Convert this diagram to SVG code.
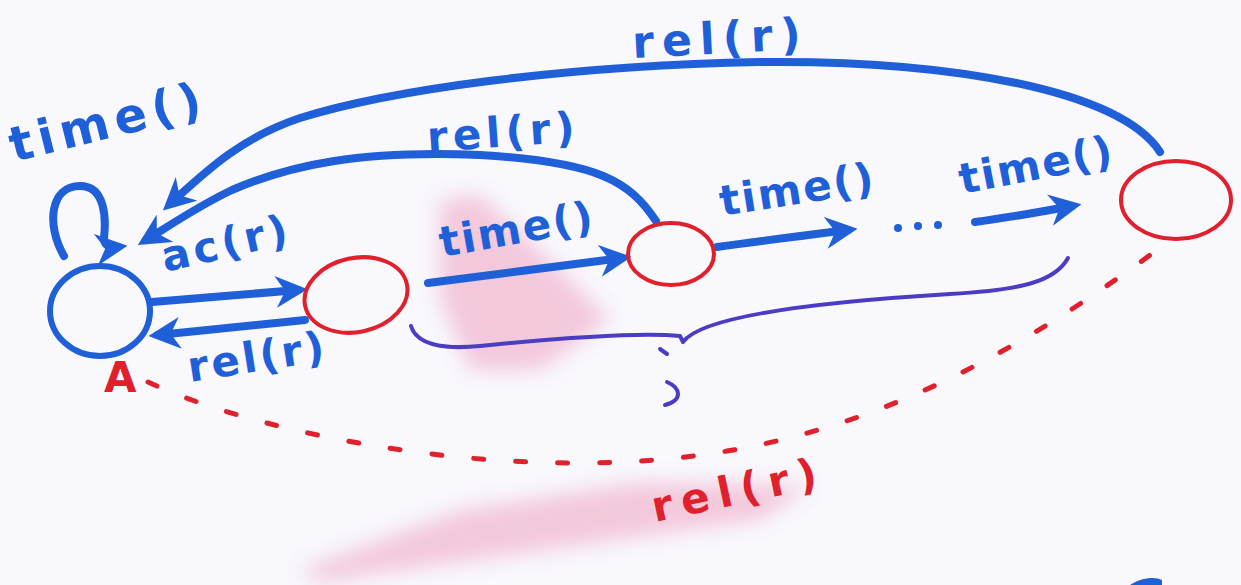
<svg xmlns="http://www.w3.org/2000/svg" width="1241" height="585" viewBox="0 0 1241 585">
  <style>
    .blue { fill: none; stroke: #1f5fd8; stroke-width: 8; stroke-linecap: round; stroke-linejoin: round; }
    .node-blue { fill: none; stroke: #1f5fd8; stroke-width: 6; }
    .node-red { fill: none; stroke: #e0202c; stroke-width: 4; }
    .purple { fill: none; stroke: #4b3cc4; stroke-width: 4; stroke-linecap: round; stroke-linejoin: round; }
    .dash { fill: none; stroke: #e0202c; stroke-width: 5; stroke-linecap: round; stroke-dasharray: 10 32; }
    .lbl { font-family: "DejaVu Sans", sans-serif; font-weight: bold; font-size: 42px; fill: #1f5fd8; letter-spacing: 2px; }
    .lbl-red { font-family: "DejaVu Sans", sans-serif; font-weight: bold; font-size: 42px; fill: #e0202c; letter-spacing: 9px; }
  </style>
  <defs>
    <marker id="head" viewBox="0 0 10 10" refX="7" refY="5" markerWidth="4" markerHeight="4" orient="auto" markerUnits="strokeWidth">
      <path d="M0,0 L10,5 L0,10 L3,5 z" fill="#1f5fd8"/>
    </marker>
    <filter id="smudge" x="-20%" y="-20%" width="140%" height="140%">
      <feGaussianBlur stdDeviation="10"/>
    </filter>
  </defs>

  <rect width="1241" height="585" fill="#f8f8fd"/>

  <!-- faint pink eraser marks -->
  <g id="smudges" filter="url(#smudge)" fill="#ee8fb4" opacity="0.45">
    <path d="M440,200 L480,195 L560,270 L610,320 L540,370 L470,370 L440,300 z"/>
    <path d="M300,570 L460,510 L640,482 L810,486 L760,520 L560,548 L320,582 z"/>
  </g>

  <!-- connectors -->
  <g id="connectors">
    <!-- self loop on A -->
    <path class="blue" d="M64,256 C46,225 50,186 80,186 C106,186 106,220 104,238 C104,246 110,248 118,247" marker-end="url(#head)"/>
    <!-- A to second state -->
    <path class="blue" d="M152,302 C200,298 250,294 298,290" marker-end="url(#head)"/>
    <!-- second state back to A -->
    <path class="blue" d="M305,320 C260,325 210,330 158,335" marker-end="url(#head)"/>
    <!-- time() chain -->
    <path class="blue" d="M428,283 C490,275 560,266 622,258" marker-end="url(#head)"/>
    <path class="blue" d="M717,247 C760,241 800,236 848,230" marker-end="url(#head)"/>
    <circle cx="898" cy="228" r="4" fill="#1f5fd8"/>
    <circle cx="918" cy="226" r="4" fill="#1f5fd8"/>
    <circle cx="938" cy="225" r="4" fill="#1f5fd8"/>
    <path class="blue" d="M975,222 C1005,218 1040,212 1072,206" marker-end="url(#head)"/>
    <!-- release from third state back to A -->
    <path class="blue" d="M656,221 C630,182 600,162 480,155 C360,150 290,165 232,190 C200,205 172,224 146,240" marker-end="url(#head)"/>
    <!-- release from last state back to A -->
    <path class="blue" d="M1160,152 C1120,90 950,60 760,62 C560,66 390,90 300,118 C240,138 205,172 170,204" marker-end="url(#head)"/>
    <!-- dashed release along the bottom -->
    <path class="dash" d="M148,382 C250,430 450,470 620,462 C800,455 960,395 1150,255"/>
    <!-- brace under the chain -->
    <path class="purple" d="M411,326 C416,343 440,350 480,346 C560,338 640,332 680,336 L683,342 C700,318 800,303 950,294 C1020,290 1055,282 1068,258"/>
    <path class="purple" d="M660,349 L667,354"/>
    <path class="purple" d="M667,382 C681,388 683,400 665,405"/>
  </g>

  <!-- states -->
  <g id="node-a">
    <ellipse class="node-blue" cx="100" cy="311" rx="50" ry="45"/>
    <text class="lbl-red" x="104" y="392" style="letter-spacing: 0">A</text>
  </g>
  <g id="node-acquired">
    <ellipse class="node-red" cx="356" cy="295" rx="52" ry="37" transform="rotate(-12 356 295)"/>
  </g>
  <g id="node-held-1">
    <ellipse class="node-red" cx="671" cy="254" rx="43" ry="31"/>
  </g>
  <g id="node-held-n">
    <ellipse class="node-red" cx="1176" cy="200" rx="55" ry="39"/>
  </g>

  <!-- labels -->
  <g id="labels">
    <text class="lbl" style="font-size: 48px; letter-spacing: 6px" transform="translate(14,162) rotate(-14)">time()</text>
    <text class="lbl" style="letter-spacing: 4px" transform="translate(165,272) rotate(-13)">ac(r)</text>
    <text class="lbl" style="letter-spacing: 3px" transform="translate(190,382) rotate(-9)">rel(r)</text>
    <text class="lbl" transform="translate(442,257) rotate(-10)">time()</text>
    <text class="lbl" transform="translate(722,216) rotate(-9)">time()</text>
    <text class="lbl" transform="translate(962,194) rotate(-11)">time()</text>
    <text class="lbl" style="letter-spacing: 5px" transform="translate(428,152) rotate(-4)">rel(r)</text>
    <text class="lbl" style="font-size: 44px; letter-spacing: 8px" transform="translate(633,58) rotate(-3)">rel(r)</text>
    <text class="lbl-red" transform="translate(655,522) rotate(-12)">rel(r)</text>
  </g>

  <!-- stray ink in the corner -->
  <path d="M1130,585 C1140,578 1155,576 1162,580 L1162,585 z" fill="#1f5fd8"/>
</svg>
